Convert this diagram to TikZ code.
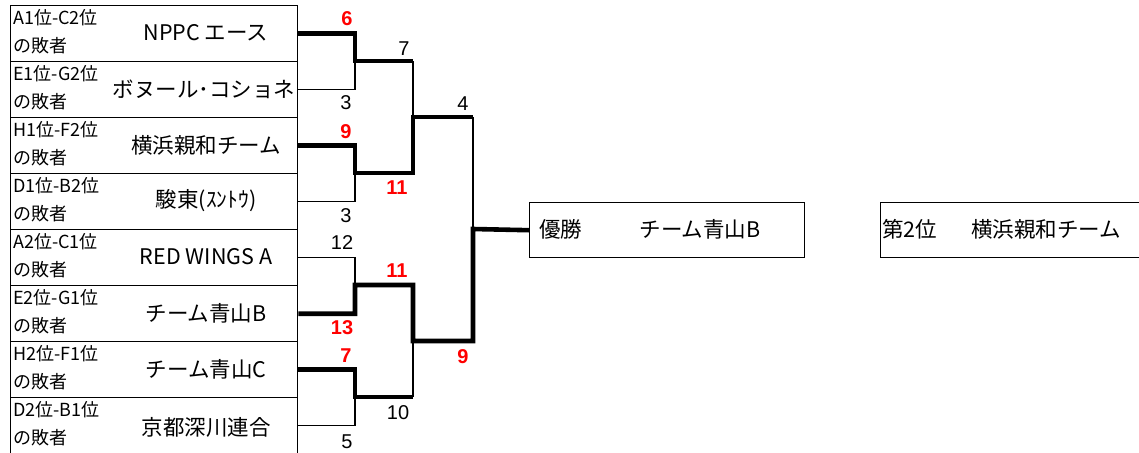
\documentclass[tikz,border=0pt]{standalone}
\usepackage{fontspec}
\setmainfont{Liberation Sans}
\newfontfamily\jp{Noto Sans CJK JP}
\begin{document}
\begin{tikzpicture}[x=1pt,y=-1pt,
		row/.style={draw,line width=1.4pt,minimum width=287pt,minimum height=56pt,anchor=north west,inner sep=0pt},
		seed/.style={anchor=west,inner sep=0pt,font=\jp\fontsize{18}{18}\selectfont},
		team/.style={inner sep=0pt,font=\jp\fontsize{21.5}{21.5}\selectfont},
		result/.style={draw,line width=1.4pt,minimum height=55pt,anchor=north west,inner sep=0pt},
		lose/.style={line width=1.4pt},
		win/.style={line width=4.6pt},
		pts/.style={inner sep=0pt,font=\fontsize{20}{20}\selectfont},
		wpts/.style={inner sep=0pt,text=red,font=\bfseries\fontsize{20}{20}\selectfont}]
		\useasboundingbox (0,0) rectangle (1139,452);
		% table of the teams
		\node [row] (r1) at (10,5) {};
		\node [row] (r2) at (10,61) {};
		\node [row] (r3) at (10,117) {};
		\node [row] (r4) at (10,173) {};
		\node [row] (r5) at (10,229) {};
		\node [row] (r6) at (10,285) {};
		\node [row] (r7) at (10,341) {};
		\node [row] (r8) at (10,397) {};
		\node [seed] (a1) at (13,18) {A1位-C2位};
		\node [seed] (b1) at (13,46) {の敗者};
		\node [seed] (a2) at (13,74) {E1位-G2位};
		\node [seed] (b2) at (13,102) {の敗者};
		\node [seed] (a3) at (13,130) {H1位-F2位};
		\node [seed] (b3) at (13,158) {の敗者};
		\node [seed] (a4) at (13,186) {D1位-B2位};
		\node [seed] (b4) at (13,214) {の敗者};
		\node [seed] (a5) at (13,242) {A2位-C1位};
		\node [seed] (b5) at (13,270) {の敗者};
		\node [seed] (a6) at (13,298) {E2位-G1位};
		\node [seed] (b6) at (13,326) {の敗者};
		\node [seed] (a7) at (13,354) {H2位-F1位};
		\node [seed] (b7) at (13,382) {の敗者};
		\node [seed] (a8) at (13,410) {D2位-B1位};
		\node [seed] (b8) at (13,438) {の敗者};
		\node [team] (t1) at (206,33) {NPPC エース};
		\node [team] (t2) at (204,89) {ボヌール･コショネ};
		\node [team] (t3) at (206,145) {横浜親和チーム};
		\node [team] (t4) at (206,201) {駿東(ｽﾝﾄｳ)};
		\node [team] (t5) at (206,257) {RED WINGS A};
		\node [team] (t6) at (206,313) {チーム青山B};
		\node [team] (t7) at (206,369) {チーム青山C};
		\node [team] (t8) at (206,427) {京都深川連合};
		% final results
		\node [result,minimum width=275pt] (champ) at (529,202) {};
		\node [team,anchor=west] (c1) at (539,229) {優勝};
		\node [team] (c2) at (700,229) {チーム青山B};
		\node [result,minimum width=262pt] (second) at (880,202) {};
		\node [team,anchor=west] (d1) at (882,229) {第2位};
		\node [team] (d2) at (1046,229) {横浜親和チーム};
		% bracket
		\coordinate (m1) at (355,61);
		\coordinate (m2) at (355,173);
		\coordinate (m3) at (355,285);
		\coordinate (m4) at (355,397);
		\coordinate (s1) at (413,117);
		\coordinate (s2) at (413,341);
		\coordinate (f) at (473,229);
		\draw [lose] (r2.east) -| (m1);
		\draw [lose] (r4.east) -| (m2);
		\draw [lose] (r5.east) -| (m3);
		\draw [lose] (r8.east) -| (m4);
		\draw [lose] (s1 |- m1) -- (s1);
		\draw [lose] (s2 |- m4) -- (s2);
		\draw [lose] (f |- s1) -- (f);
		\draw [win] (r1.east) -| (m1) -- (s1 |- m1);
		\draw [win] (r3.east) -| (m2) -- (s1 |- m2) -- (s1) -- (f |- s1);
		\draw [win] (r6.east) -| (m3) -- (s2 |- m3) -- (s2) -- (f |- s2) -- (f) -- (champ.west);
		\draw [win] (r7.east) -| (m4) -- (s2 |- m4);
		% scores
		\node [wpts] (p1) at (347,19) {6};
		\node [pts] (p2) at (346,103) {3};
		\node [wpts] (p3) at (346,132) {9};
		\node [pts] (p4) at (346,216) {3};
		\node [pts] (p5) at (342,243) {12};
		\node [wpts] (p6) at (342,328) {13};
		\node [wpts] (p7) at (346,356) {7};
		\node [pts] (p8) at (347,442) {5};
		\node [pts] (q1) at (404,49) {7};
		\node [wpts] (q2) at (397,188) {11};
		\node [wpts] (q3) at (397,271) {11};
		\node [pts] (q4) at (398,413) {10};
		\node [pts] (q5) at (463,104) {4};
		\node [wpts] (q6) at (463,357) {9};
	\end{tikzpicture}
\end{document}
